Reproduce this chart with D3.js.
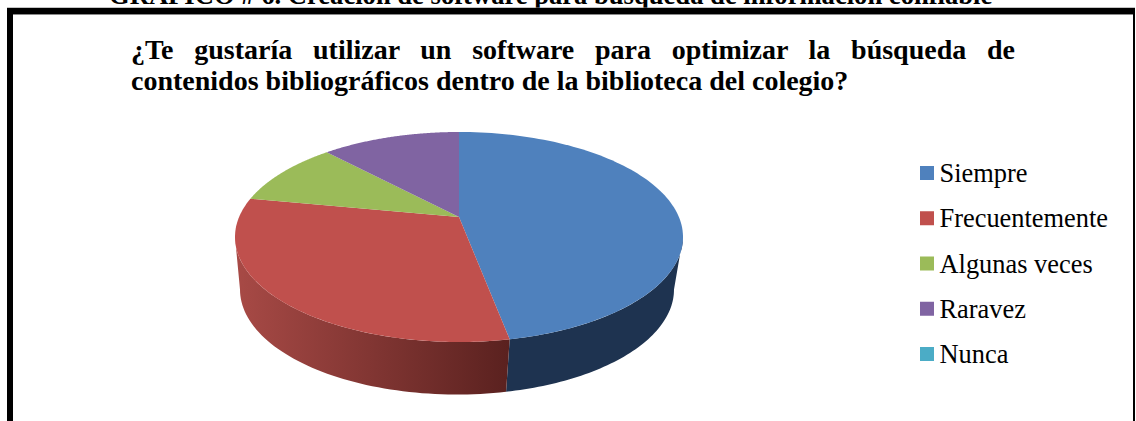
<!DOCTYPE html>
<html><head><meta charset="utf-8">
<script src="https://cdnjs.cloudflare.com/ajax/libs/d3/7.8.5/d3.min.js"></script>
<style>html,body{margin:0;padding:0;background:#fff;overflow:hidden}svg{display:block}text{font-family:"Liberation Serif",serif;fill:#000}</style>
</head><body><svg id="c" width="1136" height="421"></svg>
<script>
const categories=["Siempre","Frecuentemente","Algunas veces","Raravez","Nunca"];
const values=[47,31,10,12,0];
const colors=["#4f81bd","#c0504d","#9bbb59","#8064a2","#4bacc6"];
const wallFrom=["#1e3350","#a84a46"];
const wallTo=["#1e3350","#5a211f"];
const captionText="GRÁFICO # 6. Creación de software para búsqueda de información confiable";
const titleLine1="¿Te gustaría utilizar un software para optimizar la búsqueda de";
const titleLine2="contenidos bibliográficos dentro de la biblioteca del colegio?";

const svg=d3.select("#c");
svg.append("text").attr("x",109).attr("y",3.5).attr("font-size",26.6).attr("font-weight","bold").text(captionText);
// frame
svg.append("rect").attr("x",7).attr("y",7.5).attr("width",1128).attr("height",7.5).attr("fill","#8a8a8a");
svg.append("rect").attr("x",7).attr("y",8).attr("width",1128).attr("height",6).attr("fill","#000");
svg.append("rect").attr("x",7).attr("y",8).attr("width",6).attr("height",413).attr("fill","#000");
svg.append("rect").attr("x",1133).attr("y",8).attr("width",2).attr("height",413).attr("fill","#000");

const t1=svg.append("text").attr("x",131).attr("y",59).attr("font-size",28).attr("font-weight","bold").text(titleLine1);
const gaps=titleLine1.split(" ").length-1;
t1.attr("word-spacing",(1015-131-t1.node().getComputedTextLength())/gaps);
svg.append("text").attr("x",131).attr("y",90).attr("font-size",28).attr("font-weight","bold").text(titleLine2);

const cx=459,cy=237,rx=224,ry=105,bcx=457,brx=217,bry=105,bcy=289.5,hubShift=0.19;
const pie=d3.pie().sort(null).startAngle(0).endAngle(2*Math.PI)(values);
// perspective: a pie angle on the circle maps to a parameter on the drawn ellipse
const persp=a=>{
  const v=Math.cos(a),s=Math.sin(a),d=1+hubShift*v;
  const p=Math.atan2(s*Math.sqrt(1-hubShift*hubShift)/d,(v+hubShift)/d);
  return p<0?p+2*Math.PI:p;
};
const range=d=>[d.startAngle<1e-9?0:persp(d.startAngle), d.endAngle>=2*Math.PI-1e-9?2*Math.PI:persp(d.endAngle)];
const topPt=p=>[cx+rx*Math.sin(p),cy-ry*Math.cos(p)];
const botPt=p=>[bcx+brx*Math.sin(p),bcy-bry*Math.cos(p)];
const hub=[cx,cy-ry*hubShift];
const line=d3.line();
const defs=svg.append("defs");
const shown=pie.filter(d=>d.value>0);
shown.forEach(d=>{
  const i=d.index;
  const [p0,p1]=range(d);
  const a0=Math.max(p0,Math.PI/2),a1=Math.min(p1,1.5*Math.PI);
  if(a1<=a0)return;
  const as=d3.range(0,61).map(k=>a0+(a1-a0)*k/60);
  const pts=as.map(topPt).concat(as.slice().reverse().map(botPt));
  const xs=pts.map(q=>q[0]);
  const id="w"+i;
  const g=defs.append("linearGradient").attr("id",id).attr("gradientUnits","userSpaceOnUse")
    .attr("x1",i===0?d3.max(xs):d3.min(xs)).attr("x2",i===0?d3.min(xs):d3.max(xs)).attr("y1",0).attr("y2",0);
  g.append("stop").attr("offset",0).attr("stop-color",wallFrom[i]);
  g.append("stop").attr("offset",1).attr("stop-color",wallTo[i]);
  svg.append("path").attr("d",line(pts)+"Z").attr("fill",`url(#${id})`);
});
svg.append("g").selectAll("path").data(shown).join("path")
  .attr("d",d=>{
    const [p0,p1]=range(d);
    const as=d3.range(0,121).map(k=>p0+(p1-p0)*k/120);
    return line([hub].concat(as.map(topPt)))+"Z";
  })
  .attr("fill",d=>colors[d.index]);

const ly=d3.scalePoint().domain(categories).range([173,354]);
const leg=svg.append("g").selectAll("g").data(categories).join("g").attr("transform",d=>`translate(920,${ly(d)})`);
leg.append("rect").attr("x",0).attr("y",-7).attr("width",14).attr("height",14).attr("fill",(d,i)=>colors[i]);
leg.append("text").attr("x",19.5).attr("y",9).attr("font-size",26.4).attr("fill","#111").text(d=>d);
</script></body></html>
